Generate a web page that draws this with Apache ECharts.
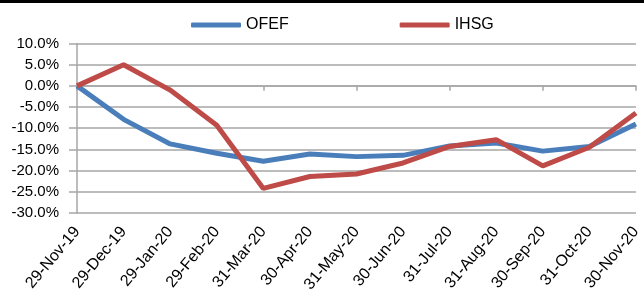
<!DOCTYPE html>
<html>
<head>
<meta charset="utf-8">
<script src="https://cdn.jsdelivr.net/npm/echarts@6/dist/echarts.min.js"></script>
<style>
html, body { margin: 0; padding: 0; background: #fff; }
#chart { width: 644px; height: 295px; }
</style>
</head>
<body>
<div id="chart"></div>
<script>
var dates = ['29-Nov-19', '29-Dec-19', '29-Jan-20', '29-Feb-20', '31-Mar-20', '30-Apr-20', '31-May-20',
             '30-Jun-20', '31-Jul-20', '31-Aug-20', '30-Sep-20', '31-Oct-20', '30-Nov-20'];
var ofef = [0, -7.9, -13.7, -15.9, -17.8, -16.1, -16.7, -16.4, -14.2, -13.5, -15.4, -14.3, -9.0];
var ihsg = [0, 5.0, -1.0, -9.3, -24.2, -21.4, -20.8, -18.2, -14.3, -12.7, -18.9, -14.5, -6.4];

var gray = '#a6a6a6';
var font = "'Liberation Sans', Arial, sans-serif";

var myChart = echarts.init(document.getElementById('chart'));

var option = {
    animation: false,
    graphic: [{
        type: 'rect',
        shape: { x: 0, y: 0, width: 644, height: 3 },
        style: { fill: '#000' }
    }],
    legend: {
        data: ['OFEF', 'IHSG'],
        left: 186,
        top: 12,
        itemWidth: 50,
        itemHeight: 5,
        itemGap: 111,
        icon: 'roundRect',
        textStyle: { fontFamily: font, fontSize: 16, color: '#000' }
    },
    grid: { left: 77, right: 3, top: 43.5, bottom: 80 },
    xAxis: [{
        type: 'category',
        data: dates,
        boundaryGap: false,
        axisLine: { onZero: true, lineStyle: { color: gray, width: 1.5 } },
        axisTick: { show: true, inside: false, length: 5, lineStyle: { color: gray, width: 1.5 } },
        axisLabel: { show: false }
    }, {
        type: 'category',
        data: dates,
        boundaryGap: false,
        position: 'bottom',
        axisLine: { show: false },
        axisTick: { show: false },
        axisLabel: {
            rotate: 50,
            margin: 16,
            interval: 0,
            fontFamily: font,
            fontSize: 16,
            color: '#000'
        }
    }],
    yAxis: {
        type: 'value',
        min: -30,
        max: 10,
        interval: 5,
        axisLine: { show: true, lineStyle: { color: gray, width: 1.5 } },
        axisTick: { show: true, length: 8, lineStyle: { color: gray, width: 1.5 } },
        splitLine: { lineStyle: { color: gray, width: 1.5 } },
        axisLabel: {
            margin: 18,
            fontFamily: font,
            fontSize: 15,
            color: '#000',
            formatter: function (v) { return v.toFixed(1) + '%'; }
        }
    },
    series: [{
        name: 'OFEF',
        type: 'line',
        data: ofef,
        symbol: 'none',
        lineStyle: { width: 5, color: '#4a7ebb' },
        itemStyle: { color: '#4a7ebb' }
    }, {
        name: 'IHSG',
        type: 'line',
        data: ihsg,
        symbol: 'none',
        lineStyle: { width: 5, color: '#be4b48' },
        itemStyle: { color: '#be4b48' }
    }]
};

myChart.setOption(option);
</script>
</body>
</html>
